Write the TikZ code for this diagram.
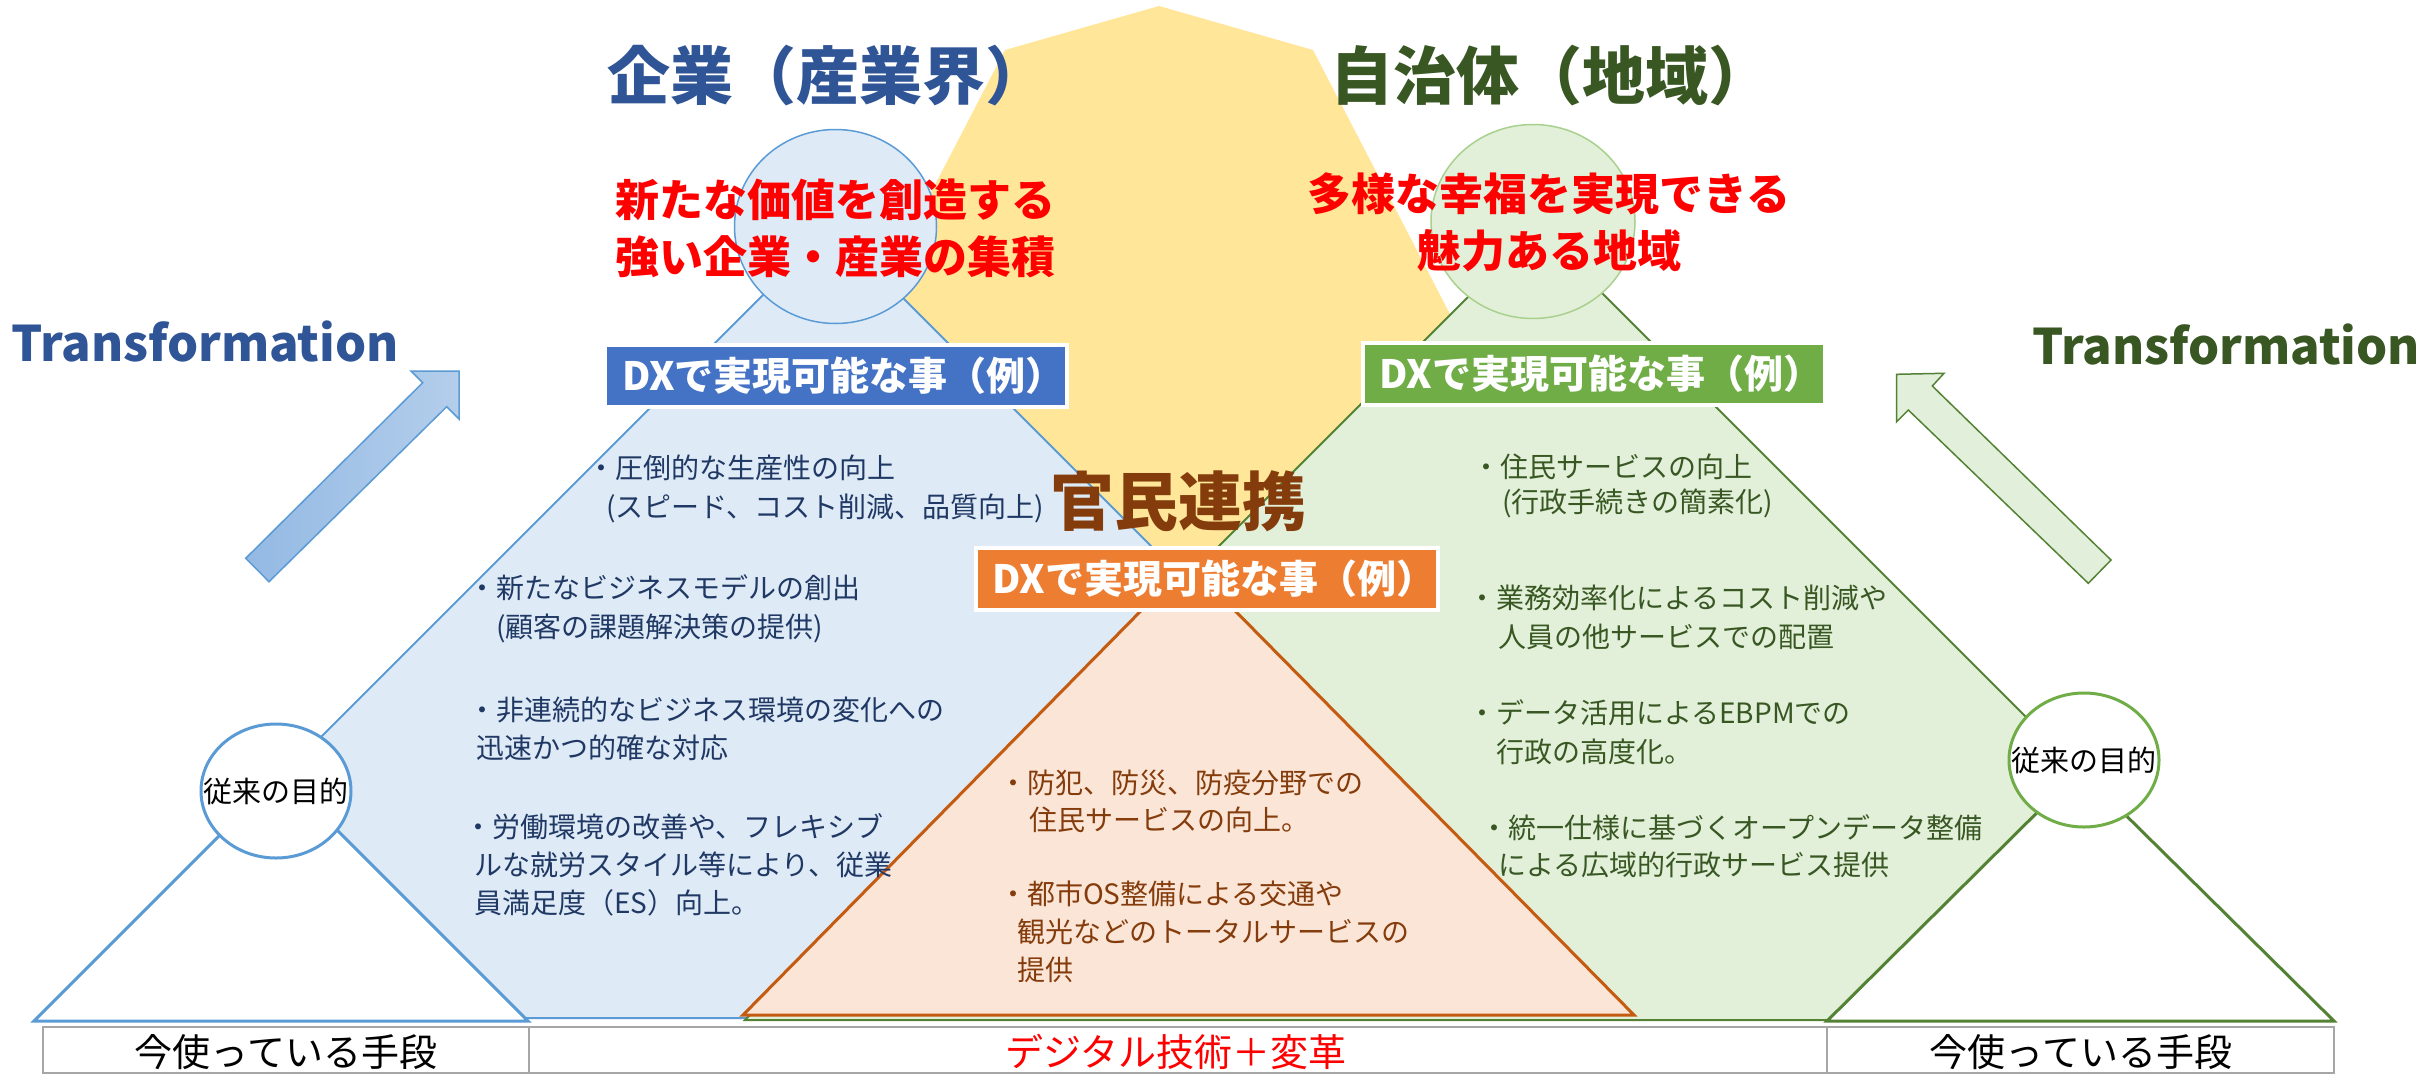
\documentclass[tikz,border=0pt]{standalone}
\usepackage{fontspec}
\setmainfont{Noto Sans CJK JP}
\definecolor{yel}{HTML}{FFE699}
\definecolor{bfill}{HTML}{DEEBF7}
\definecolor{bline}{HTML}{5B9BD5}
\definecolor{gfill}{HTML}{E2F0D9}
\definecolor{gline}{HTML}{548235}
\definecolor{gmid}{HTML}{70AD47}
\definecolor{glight}{HTML}{A9D18E}
\definecolor{ofill}{HTML}{FBE5D6}
\definecolor{oline}{HTML}{C55A11}
\definecolor{dxblue}{HTML}{4472C4}
\definecolor{dxgreen}{HTML}{70AD47}
\definecolor{dxorange}{HTML}{ED7D31}
\definecolor{tblue}{HTML}{2F5597}
\definecolor{tgreen}{HTML}{385723}
\definecolor{navy}{HTML}{203864}
\definecolor{kbrown}{HTML}{843C0C}
\definecolor{boxgray}{HTML}{A6A6A6}
\definecolor{arrA}{HTML}{93B9E3}
\definecolor{arrB}{HTML}{B4CEEB}
\definecolor{arrG}{HTML}{E2EFDA}
\tikzset{
  ltxt/.style={inner sep=0pt, anchor=west, font=\fontsize{28}{34}\selectfont, text height=24.6pt, text depth=3.4pt},
  bl/.style={ltxt, text=navy},
  gr/.style={ltxt, text=tgreen},
  orr/.style={ltxt, text=kbrown},
  ttl/.style={inner sep=0pt, font=\bfseries\fontsize{63}{70}\selectfont, text height=55.4pt, text depth=7.6pt},
  redt/.style={inner sep=0pt, text=red, font=\bfseries\fontsize{44}{50}\selectfont, text height=38.7pt, text depth=5.3pt},
  trans/.style={inner sep=0pt, font=\bfseries\fontsize{49}{56}\selectfont},
  dxbox/.style={draw=white, line width=4pt, text=white, font=\bfseries\fontsize{39}{44}\selectfont, inner xsep=17pt, inner ysep=0pt, minimum height=62pt, text width=428pt, align=left, text height=34.3pt, text depth=4.7pt},
  circt/.style={inner sep=0pt, font=\fontsize{29}{34}\selectfont, text height=25.5pt, text depth=3.5pt},
  bott/.style={inner sep=0pt, font=\fontsize{38}{44}\selectfont, text height=33.4pt, text depth=4.6pt},
  gbox/.style={draw=boxgray, line width=2.5pt},
}
\begin{document}
\begin{tikzpicture}[x=1pt,y=-1pt]
\useasboundingbox (0,0) rectangle (2433,1074);
\fill[white] (0,0) rectangle (2433,1074);

% yellow shape
\fill[yel] (1159,6) -- (1313,50) -- (1480,372) -- (1175,590) -- (870,310) -- (1005,50) -- cycle;

% big triangles
\filldraw[fill=bfill, draw=bline, line width=2pt] (831.5,226.5) -- (1623,1018) -- (40,1018) -- cycle;
\filldraw[fill=gfill, draw=gline, line width=2pt] (1537,228) -- (2329,1020) -- (745,1020) -- cycle;
\filldraw[fill=ofill, draw=oline, line width=3pt] (1188,563) -- (1634,1015) -- (743,1015) -- cycle;

% big circles
\filldraw[fill=bfill, draw=bline, line width=1.5pt] (835.5,226.5) ellipse [x radius=101, y radius=97];
\filldraw[fill=gfill, draw=glight, line width=1.5pt] (1533,221.5) ellipse [x radius=102, y radius=97];

% white triangles
\filldraw[fill=white, draw=bline, line width=3pt] (281,774) -- (528,1021) -- (34,1021) -- cycle;
\filldraw[fill=white, draw=gline, line width=3pt] (2080,770) -- (2334,1021) -- (1827,1021) -- cycle;

% small circles
\filldraw[fill=white, draw=bline, line width=3pt] (276,791) ellipse [x radius=75, y radius=67];
\filldraw[fill=white, draw=gmid, line width=3pt] (2084,760) ellipse [x radius=75, y radius=67];
\node[circt] (c1) at (276,791) {従来の目的};
\node[circt] (c2) at (2084,760) {従来の目的};

% arrows
\draw[left color=arrA, right color=arrB, draw=bline, line width=1.5pt] (245.7,558.3) -- (422.7,382.7) -- (411,371) -- (459,371) -- (459,419) -- (446.7,406.7) -- (269,581.7) -- cycle;
\draw[fill=arrG, draw=gline, line width=1.5pt] (1896.7,374.3) -- (1944,373.3) -- (1932.3,386) -- (2111,560) -- (2088.3,583.3) -- (1908.3,410) -- (1896.7,421.7) -- cycle;

% titles
\node[ttl, text=tblue] (t1) at (828,76) {企業（産業界）};
\node[ttl, text=tgreen] (t2) at (1551,76) {自治体（地域）};
\node[trans, text=tblue] (tr1) at (205,341) {Transformation};
\node[trans, text=tgreen] (tr2) at (2226,344) {Transformation};

% red goals
\node[redt] (r1) at (835,200) {新たな価値を創造する};
\node[redt] (r2) at (835,257) {強い企業・産業の集積};
\node[redt] (r3) at (1549,194) {多様な幸福を実現できる};
\node[redt] (r4) at (1549,251) {魅力ある地域};

% DX boxes
\node[dxbox, fill=dxblue] (dx1) at (836,376) {DXで実現可能な事（例）};
\node[dxbox, fill=dxgreen] (dx2) at (1593.5,374) {DXで実現可能な事（例）};
\node[dxbox, fill=dxorange] (dx3) at (1206.5,578.5) {DXで実現可能な事（例）};

% central label
\node[inner sep=0pt, text=kbrown, font=\bfseries\fontsize{64}{70}\selectfont, text height=56.3pt, text depth=7.7pt] (km) at (1178,501) {官民連携};

% blue bullets
\node[bl] (b1a) at (587,468) {・圧倒的な生産性の向上};
\node[bl] (b1b) at (606,507) {(スピード、コスト削減、品質向上)};
\node[bl] (b2a) at (468,588) {・新たなビジネスモデルの創出};
\node[bl] (b2b) at (496,627) {(顧客の課題解決策の提供)};
\node[bl] (b3a) at (468,710) {・非連続的なビジネス環境の変化への};
\node[bl] (b3b) at (476,748) {迅速かつ的確な対応};
\node[bl] (b4a) at (464,827) {・労働環境の改善や、フレキシブ};
\node[bl] (b4b) at (474,865) {ルな就労スタイル等により、従業};
\node[bl] (b4c) at (474,903) {員満足度（ES）向上。};

% green bullets
\node[gr] (g1a) at (1472,467) {・住民サービスの向上};
\node[gr] (g1b) at (1502,502) {(行政手続きの簡素化)};
\node[gr] (g2a) at (1468,598) {・業務効率化によるコスト削減や};
\node[gr] (g2b) at (1498,637) {人員の他サービスでの配置};
\node[gr] (g3a) at (1468,713) {・データ活用によるEBPMでの};
\node[gr] (g3b) at (1496,752) {行政の高度化。};
\node[gr] (g4a) at (1480,828) {・統一仕様に基づくオープンデータ整備};
\node[gr] (g4b) at (1498,865) {による広域的行政サービス提供};

% orange bullets
\node[orr] (o1a) at (999,783) {・防犯、防災、防疫分野での};
\node[orr] (o1b) at (1029,820) {住民サービスの向上。};
\node[orr] (o2a) at (999,894) {・都市OS整備による交通や};
\node[orr] (o2b) at (1017,932) {観光などのトータルサービスの};
\node[orr] (o2c) at (1017,970) {提供};

% bottom boxes
\draw[gbox] (43,1027) rectangle (529,1073);
\draw[gbox] (529,1027) rectangle (1827,1073);
\draw[gbox] (1827,1027) rectangle (2334,1073);
\node[bott] (m1) at (286,1052) {今使っている手段};
\node[bott, text=red] (m2) at (1176,1052) {デジタル技術＋変革};
\node[bott] (m3) at (2081,1052) {今使っている手段};
\end{tikzpicture}
\end{document}
